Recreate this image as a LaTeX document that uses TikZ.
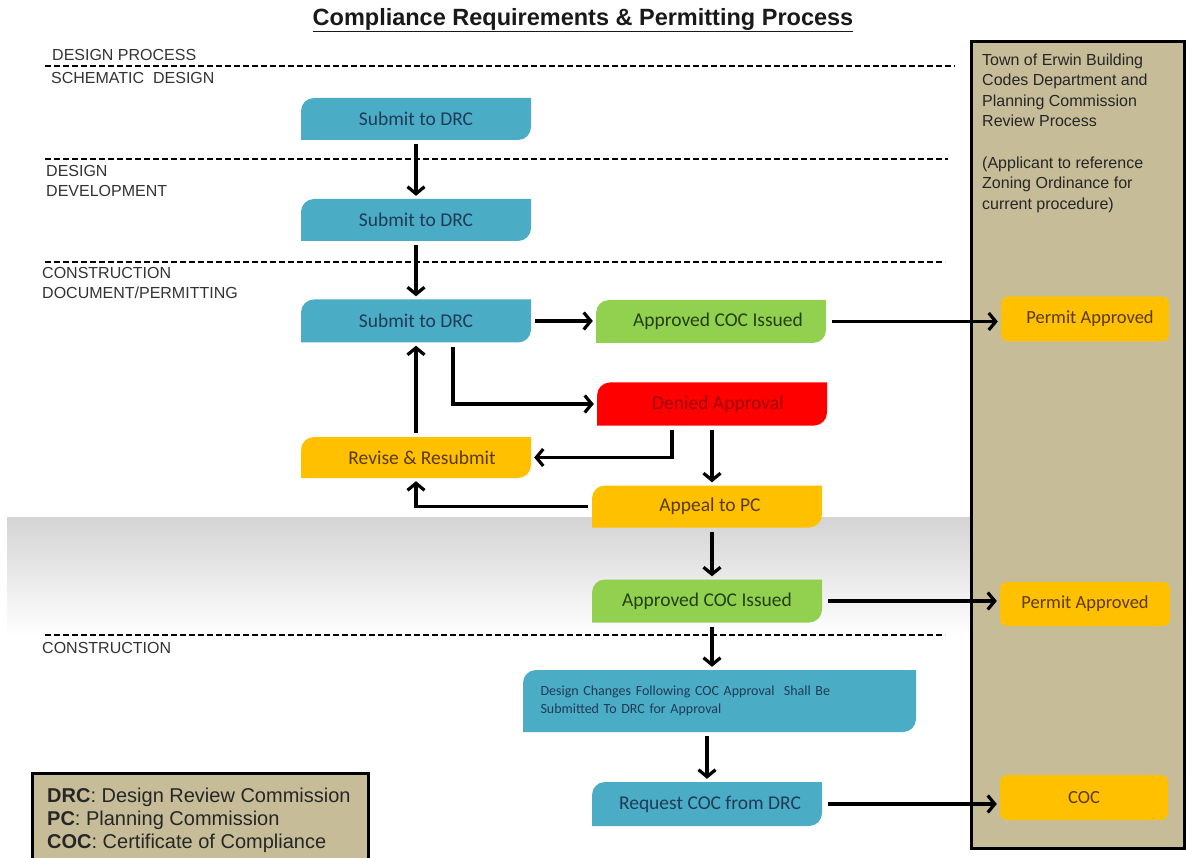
\documentclass[tikz,border=0pt]{standalone}
\usepackage{fontspec}
\setmainfont{Liberation Sans}
\newfontfamily\boxfont{Carlito}
\usetikzlibrary{arrows.meta,calc}
\definecolor{cblue}{HTML}{4BACC6}
\definecolor{cgreen}{HTML}{92D050}
\definecolor{cred}{HTML}{FF0000}
\definecolor{cyellow}{HTML}{FFC000}
\definecolor{ctan}{HTML}{C6BD98}
\definecolor{tblue}{HTML}{1F3B57}
\definecolor{tgreen}{HTML}{243F14}
\definecolor{tred}{HTML}{A00000}
\definecolor{tyellow}{HTML}{5B3A0A}
\definecolor{lab}{HTML}{333333}
\begin{document}
\begin{tikzpicture}[x=1pt,y=-1pt,
  fbox/.style={minimum width=230pt, minimum height=43pt, inner sep=0pt,
    font=\boxfont\fontsize{19.5}{23}\selectfont,
    path picture={\fill[#1] (path picture bounding box.south west)
      -- ($(path picture bounding box.north west)+(0,-13pt)$)
      .. controls ($(path picture bounding box.north west)+(0,-5.8pt)$) and ($(path picture bounding box.north west)+(5.8pt,0)$) .. ($(path picture bounding box.north west)+(13pt,0)$)
      -- (path picture bounding box.north east)
      -- ($(path picture bounding box.south east)+(0,13pt)$)
      .. controls ($(path picture bounding box.south east)+(0,5.8pt)$) and ($(path picture bounding box.south east)+(-5.8pt,0)$) .. ($(path picture bounding box.south east)+(-13pt,0)$)
      -- cycle;}},
  pbox/.style={fill=cyellow, rounded corners=7pt, minimum width=168pt, minimum height=45pt, inner sep=0pt,
    text=tyellow, font=\boxfont\fontsize{18.5}{22}\selectfont},
  arr/.style={line width=3.4pt, -{Straight Barb[length=7pt,width=17pt,line width=3.2pt]},
    shorten <=4pt, shorten >=3pt},
  dline/.style={line width=2pt, dash pattern=on 6pt off 3pt},
  lbl/.style={anchor=base west, inner sep=0pt, text=lab, font=\fontsize{16}{20}\selectfont}
]
\useasboundingbox (0,0) rectangle (1186,858);
\fill[white] (0,0) rectangle (1186,858);
% gray band
\shade[top color=black!17, bottom color=white] (7,517) rectangle (971,636);

% title
\node[inner sep=0pt, font=\bfseries\fontsize{23.5}{28}\selectfont, text=black!90] (title) at (583,20) {\underline{Compliance Requirements \& Permitting Process}};

% dashed lines
\draw[dline] (45,66) -- (955,66);
\draw[dline] (45,159) -- (948,159);
\draw[dline] (45,262) -- (945,262);
\draw[dline] (45,635) -- (945,635);

% labels
\node[lbl] (l1) at (52,61) {DESIGN PROCESS};
\node[lbl] (l2) at (51,84) {SCHEMATIC\ \ DESIGN};
\node[lbl] (l3) at (46,177) {DESIGN};
\node[lbl] (l4) at (46,197) {DEVELOPMENT};
\node[lbl] (l5) at (42,279) {CONSTRUCTION};
\node[lbl] (l6) at (42,299) {DOCUMENT/PERMITTING};
\node[lbl] (l7) at (42,653) {CONSTRUCTION};

% right panel
\draw[fill=ctan, line width=3pt] (971,42) rectangle (1184,848);
\node[anchor=north west, inner sep=0pt, align=left, text=black!85, font=\fontsize{16}{20.5}\selectfont] (ptext) at (982,53.5)
 {Town of Erwin Building\\Codes Department and\\Planning Commission\\Review Process\\[21pt](Applicant to reference\\Zoning Ordinance for\\current procedure)};

% flow boxes
\node[fbox=cblue, text=tblue, minimum height=42pt] (b1) at (416,119) {Submit to DRC};
\node[fbox=cblue, text=tblue, minimum height=42pt] (b2) at (416,220) {Submit to DRC};
\node[fbox=cblue, text=tblue] (b3) at (416,321) {Submit to DRC};
\node[fbox=cgreen, text=tgreen] (g1) at (711,321.5) {\hspace*{14pt}Approved COC Issued};
\node[fbox=cred, text=tred] (den) at (712,404) {\hspace*{12pt}Denied Approval};
\node[fbox=cyellow, text=tyellow, minimum height=41pt] (rev) at (416,457.5) {\hspace*{12pt}Revise \& Resubmit};
\node[fbox=cyellow, text=tyellow, minimum height=42pt] (app) at (707,506.5) {\hspace*{6pt}Appeal to PC};
\node[fbox=cgreen, text=tgreen] (g2) at (707,601) {Approved COC Issued};
\node[fbox=cblue, text=tblue, minimum width=393pt, minimum height=62pt, text width=358pt, align=left,
      font=\boxfont\fontsize{14}{18}\selectfont] (dch) at (719.5,701)
      {Design Changes Following COC Approval\ \ Shall Be\\Submitted To DRC for Approval};
\node[fbox=cblue, text=tblue, minimum height=44pt] (req) at (707,804) {\hspace*{6pt}Request COC from DRC};

\node[pbox] (pa1) at (1085,319) {\hspace*{10pt}Permit Approved};
\node[pbox, minimum width=170pt, minimum height=44pt] (pa2) at (1085,604) {Permit Approved};
\node[pbox] (coc) at (1084,797.5) {COC};

% connectors
\draw[arr] (b1) -- (b2);
\draw[arr] (b2) -- (b3);
\draw[arr] (b3.east) -- (b3.east -| g1.west);
\draw[arr] ([xshift=37pt]b3.south) |- (den.west);
\draw[arr] ([xshift=-40pt]den.south) |- (rev.east);
\draw[arr] (den.south) -- (den.south |- app.north);
\draw[arr] (rev.north) -- (rev.north |- b3.south);
\draw[arr] (app.west) -| (rev.south);
\draw[arr] (den.south |- app.south) -- (den.south |- g2.north);
\draw[arr] (den.south |- g2.south) -- (den.south |- dch.north);
\draw[arr] (g2.south |- dch.south) -- (g2.south |- req.north);
\draw[arr, shorten <=6pt] (g1.east) -- (g1.east -| pa1.west);
\draw[arr, shorten <=6pt] (g2.east) -- (g2.east -| pa2.west);
\draw[arr, shorten <=6pt] (req.east) -- (req.east -| coc.west);

% legend
\fill[ctan] (32,773) rectangle (368,858);
\draw[line width=3pt] (32,860) -- (32,773) -- (368,773) -- (368,860);
\node[anchor=north west, inner sep=0pt, align=left, text=black!85, font=\fontsize{20}{23}\selectfont] (legend) at (47,787.5)
 {\textbf{DRC}: Design Review Commission\\\textbf{PC}: Planning Commission\\\textbf{COC}: Certificate of Compliance};
\end{tikzpicture}
\end{document}
